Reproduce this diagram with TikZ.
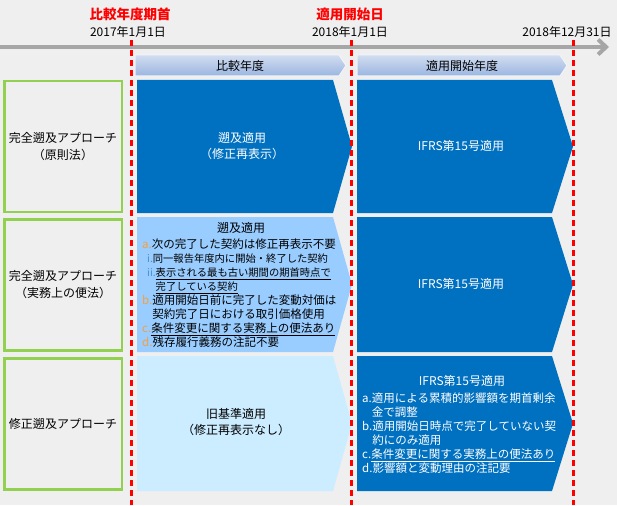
\documentclass[tikz,border=0pt]{standalone}
\usepackage{fontspec}
\setmainfont{Noto Sans CJK JP}
\usetikzlibrary{arrows.meta}

\definecolor{bggray}{HTML}{EFEFEF}
\definecolor{axisgray}{HTML}{A6A6A6}
\definecolor{appgreen}{HTML}{92D050}
\definecolor{deepblue}{HTML}{0070C0}
\definecolor{midblue}{HTML}{99CCFF}
\definecolor{paleblue}{HTML}{CCECFF}
\definecolor{hdtop}{HTML}{D2DDF0}
\definecolor{hdbot}{HTML}{9AB5E0}
\definecolor{laborange}{HTML}{F5A03C}
\definecolor{labblue}{HTML}{4A90D0}

\newcommand{\lab}[1]{\textcolor{laborange}{#1}}
\newcommand{\sublab}[1]{\textcolor{labblue}{#1}}

\begin{document}
\begin{tikzpicture}[x=1pt,y=-1pt,
  every node/.style={inner sep=0pt},
  approach/.style={draw=appgreen,line width=2.5pt,fill=bggray,minimum width=117.5pt,
    minimum height=131pt,align=center,font=\fontsize{12}{17}\selectfont},
  milestone/.style={text=red,font=\bfseries\fontsize{13.5}{15}\selectfont},
  datelabel/.style={font=\fontsize{12}{14}\selectfont},
  whitetext/.style={text=white,align=center,font=\fontsize{12}{16}\selectfont},
  darktext/.style={align=center,font=\fontsize{12}{16}\selectfont},
  itemlist/.style={align=left,font=\fontsize{11.5}{14}\selectfont}
]

% Background
\fill[bggray] (0,0) rectangle (617,505);
\useasboundingbox (0,0) rectangle (617,505);

% Time axis
\draw[axisgray,line width=4pt,-{Straight Barb[length=8pt,width=15pt]}] (0,47) -- (609,47);

% Milestones on the axis
\node[milestone] (startcmp) at (130,14) {比較年度期首};
\node[datelabel] (datecmp) at (128,32) {2017年1月1日};
\node[milestone] (startifrs) at (350,14) {適用開始日};
\node[datelabel] (dateifrs) at (350,32) {2018年1月1日};
\node[datelabel] (dateend) at (567,32) {2018年12月31日};

% Period headers
\shade[top color=hdtop,bottom color=hdbot,draw=white!85!hdbot,line width=1pt]
  (135,55) -- (339,55) -- (346,65.5) -- (339,76) -- (135,76) -- cycle;
\shade[top color=hdtop,bottom color=hdbot,draw=white!85!hdbot,line width=1pt]
  (357,55) -- (560,55) -- (567,65.5) -- (560,76) -- (357,76) -- cycle;
\node[datelabel] (hdcmp) at (240,66) {比較年度};
\node[datelabel] (hdifrs) at (462,66) {適用開始年度};

% Approaches
\node[approach] (full) at (63,146.5) {完全遡及アプローチ\\（原則法）};
\node[approach] (practical) at (63,285) {完全遡及アプローチ\\（実務上の便法）};
\node[approach] (modified) at (63,424) {修正遡及アプローチ};

% Comparative year
\fill[deepblue] (137,80) -- (333,80) -- (352,146.5) -- (333,213) -- (137,213) -- cycle;
\fill[midblue] (137,217) -- (333,217) -- (352,284.5) -- (333,352) -- (137,352) -- cycle;
\fill[paleblue] (137,356) -- (333,356) -- (352,423.5) -- (333,491) -- (137,491) -- cycle;

% Initial application year
\foreach \top/\bot in {80/213,217/352,356/491}
  \fill[deepblue] (357,\top) -- (552,\top) -- (573,{(\top+\bot)/2}) -- (552,\bot) -- (357,\bot) -- cycle;

% Texts, comparative year
\node[whitetext] (retro) at (242,146) {遡及適用\\（修正再表示）};
\node[darktext] (retrotitle) at (241,228) {遡及適用};
\node[itemlist,anchor=north west] (retroitems) at (142,239) {%
  \lab{a.}次の完了した契約は修正再表示不要\\
  \hspace*{5pt}{\fontsize{10.3}{14}\selectfont\sublab{i.}同一報告年度内に開始・終了した契約}\\
  \hspace*{5pt}{\fontsize{10.3}{14}\selectfont\sublab{ii.}\underline{表示される最も古い期間の期首時点で}}\\
  \hspace*{5pt}{\fontsize{10.3}{14}\selectfont\phantom{ii.}\underline{完了している契約}}\\
  \lab{b.}適用開始日前に完了した変動対価は\\
  \phantom{b.}契約完了日における取引価格使用\\
  \lab{c.}\underline{条件変更に関する実務上の便法あり}\\
  \lab{d.}残存履行義務の注記不要};
\node[darktext] (oldgaap) at (236,422.5) {旧基準適用\\（修正再表示なし）};

% Texts, initial application year
\node[whitetext] (ifrsfull) at (461,146) {IFRS第15号適用};
\node[whitetext] (ifrspract) at (461,284) {IFRS第15号適用};
\node[whitetext] (ifrsmod) at (462,381) {IFRS第15号適用};
\node[itemlist,anchor=north west,text=white] (ifrsitems) at (362,393) {%
  a.適用による累積的影響額を期首剰余\\
  \phantom{a.}金で調整\\
  b.適用開始日時点で完了していない契\\
  \phantom{b.}約にのみ適用\\
  c.\underline{条件変更に関する実務上の便法あり}\\
  d.影響額と変動理由の注記要};

% Boundaries of the periods
\foreach \x in {131,351,573}
  \draw[red,line width=3pt,dash pattern=on 6pt off 4pt] (\x,40) -- (\x,505);

\end{tikzpicture}
\end{document}
